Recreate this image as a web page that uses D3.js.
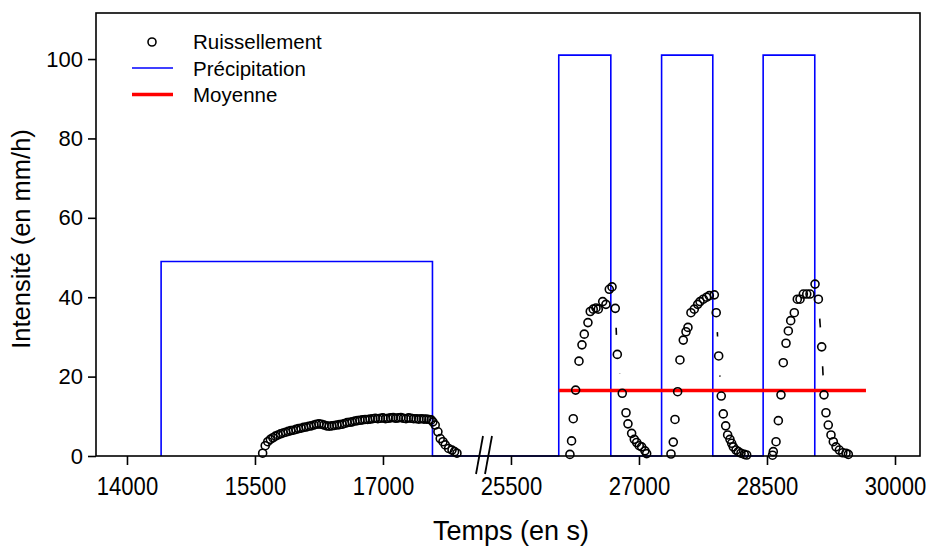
<!DOCTYPE html>
<html>
<head>
<meta charset="utf-8">
<script src="https://cdn.jsdelivr.net/npm/d3@7"></script>
<style>
html,body{margin:0;padding:0;background:#fff;}
svg{display:block;}
text{font-family:"Liberation Sans",Arial,sans-serif;fill:#000;}
</style>
</head>
<body>
<svg id="chart" width="926" height="548"></svg>
<script>
// ---- data ----
const xTickValues = [14000, 15500, 17000, 25500, 27000, 28500, 30000];
const yTickValues = [0, 20, 40, 60, 80, 100];
const seriesNames = ["Ruissellement", "Précipitation", "Moyenne"];

// precipitation hyetograph (time s, intensity mm/h)
const precipTimes  = [14400, 14400, 17580, 17580, 18184, 25184, 26060, 26060, 26670, 26670, 27265, 27265, 27865, 27865, 28455, 28455, 29060, 29060];
const precipValues = [0, 49, 49, 0, 0, 0, 0, 101, 101, 0, 0, 101, 101, 0, 0, 101, 101, 0];

// mean runoff line
const meanTimes  = [26060, 29660];
const meanValues = [16.5, 16.5];

// runoff event 1 (long rain)
const runoff1Times = [15590,15620,15650,15680,15710,15740,15770,15800,15830,15860,15890,15920,15950,15980,16010,16040,16070,16100,16130,16160,16190,16220,16250,16280,16310,16340,16370,16400,16430,16460,16490,16520,16550,16580,16610,16640,16670,16700,16730,16760,16790,16820,16850,16880,16910,16940,16970,17000,17030,17060,17090,17120,17150,17180,17210,17240,17270,17300,17330,17360,17390,17420,17450,17480,17510,17540,17565,17585,17612,17644,17671,17703,17730,17769,17809,17839,17867];
const runoff1Values = [0.7,2.6,3.6,4.2,4.6,5.0,5.3,5.6,5.8,6.0,6.2,6.4,6.5,6.7,6.9,7.0,7.2,7.3,7.5,7.6,7.8,8.0,8.1,8.0,7.8,7.6,7.5,7.6,7.7,7.8,7.9,8.0,8.2,8.4,8.5,8.6,8.8,8.9,9.0,9.1,9.2,9.2,9.3,9.4,9.5,9.4,9.5,9.6,9.4,9.5,9.6,9.7,9.5,9.6,9.7,9.5,9.4,9.6,9.5,9.4,9.4,9.3,9.4,9.3,9.3,9.2,9.1,8.6,7.8,6.1,4.4,3.6,2.8,1.9,1.5,1.1,0.7];

// runoff events 2-4 (short intense rains)
const runoff2Times = [26191,26210,26230,26258,26297,26332,26359,26402,26429,26464,26496,26523,26575,26613,26652,26684,26722,26746,26804,26848,26871,26914,26945,26973,27003,27031,27070,27090];
const runoff2Values = [0.4,3.8,9.4,16.6,23.9,28.0,30.7,33.6,36.4,37.0,37.3,37.0,38.9,38.2,42.0,42.6,37.2,25.6,15.8,10.9,8.1,5.7,4.2,3.4,2.6,2.3,1.3,0.6];
const runoff3Times = [27375,27402,27422,27453,27480,27519,27551,27574,27609,27648,27688,27715,27754,27793,27824,27883,27905,27934,27964,27988,28016,28039,28066,28086,28105,28137,28164,28195,28234,28262];
const runoff3Values = [0.5,3.5,9.2,16.2,24.2,29.2,31.3,32.4,36.1,37.0,38.2,38.9,39.5,40.0,40.4,40.6,36.1,25.2,15.1,10.6,7.6,5.3,4.2,3.2,2.3,1.5,1.1,0.7,0.4,0.25];
const runoff4Times = [28565,28574,28606,28633,28664,28691,28723,28750,28778,28820,28855,28887,28926,28966,29004,29063,29102,29141,29168,29191,29218,29250,29277,29309,29348,29388,29426,29453];
const runoff4Values = [0.2,1.1,3.6,8.9,15.4,23.5,28.4,31.5,34.1,36.1,39.5,39.5,40.8,40.8,40.8,43.3,39.5,27.5,15.4,10.9,7.8,5.3,3.6,2.3,1.5,0.8,0.7,0.4];

// ---- layout ----
const svg = d3.select("#chart");
const L = 96, R = 920, T = 13, B = 456;
const breakLeft = 18184, breakRight = 25184;
const symR = 4;

const x = d3.scaleLinear()
  .domain([13637, breakLeft, breakRight, 30293])
  .range([L, 484, 484, R]);
const y = d3.scaleLinear().domain([0, 111.6]).range([B, T]);

const zip = (ts, vs) => ts.map((t, i) => [t, vs[i]]);

// precipitation
svg.append("path")
  .datum(zip(precipTimes, precipValues))
  .attr("fill", "none").attr("stroke", "#0000ff").attr("stroke-width", 1.6)
  .attr("d", d3.line().x(d => x(d[0])).y(d => y(d[1])));

// mean
svg.append("path")
  .datum(zip(meanTimes, meanValues))
  .attr("fill", "none").attr("stroke", "#ff0000").attr("stroke-width", 3.4)
  .attr("d", d3.line().x(d => x(d[0])).y(d => y(d[1])));

// runoff: connecting line with gaps around symbols, then symbols
const gap = 19.5;
const events = [zip(runoff1Times, runoff1Values), zip(runoff2Times, runoff2Values), zip(runoff3Times, runoff3Values), zip(runoff4Times, runoff4Values)];
const gLine = svg.append("g");
events.forEach(ev => {
  for (let i = 0; i < ev.length - 1; i++) {
    const x1 = x(ev[i][0]), y1 = y(ev[i][1]), x2 = x(ev[i+1][0]), y2 = y(ev[i+1][1]);
    const d = Math.hypot(x2 - x1, y2 - y1);
    if (d > 2 * gap) {
      const ux = (x2 - x1) / d, uy = (y2 - y1) / d;
      gLine.append("line")
        .attr("x1", x1 + ux * gap).attr("y1", y1 + uy * gap)
        .attr("x2", x2 - ux * gap).attr("y2", y2 - uy * gap)
        .attr("stroke", "#000").attr("stroke-width", 1.6);
    }
  }
});
const gPts = svg.append("g");
events.forEach(ev => {
  gPts.selectAll(null).data(ev).enter().append("circle")
    .attr("cx", d => x(d[0])).attr("cy", d => y(d[1])).attr("r", symR)
    .attr("fill", "none").attr("stroke", "#000").attr("stroke-width", 1.6);
});

// frame
svg.append("rect").attr("x", L).attr("y", T).attr("width", R - L).attr("height", B - T)
  .attr("fill", "none").attr("stroke", "#000").attr("stroke-width", 1.6);

// axes
const xAxis = svg.append("g").attr("transform", `translate(0,${B})`)
  .call(d3.axisBottom(x).tickValues(xTickValues).tickSize(9).tickPadding(12).tickFormat(d3.format("d")));
xAxis.select(".domain").remove();
xAxis.selectAll(".tick line").attr("stroke-width", 1.6);
xAxis.selectAll(".tick text").attr("font-size", 26).attr("font-family", "Liberation Sans, Arial, sans-serif")
  .attr("transform", "scale(0.85,1)");

const yAxis = svg.append("g").attr("transform", `translate(${L},0)`)
  .call(d3.axisLeft(y).tickValues(yTickValues).tickSize(8).tickPadding(5));
yAxis.select(".domain").remove();
yAxis.selectAll(".tick line").attr("stroke-width", 1.6);
yAxis.selectAll(".tick text").attr("font-size", 22).attr("font-family", "Liberation Sans, Arial, sans-serif");

// axis break marks
const bx = x(breakLeft);
[-4.5, 4.5].forEach(o => {
  svg.append("line").attr("x1", bx + o - 3.5).attr("y1", B + 18).attr("x2", bx + o + 3.5).attr("y2", B - 20)
    .attr("stroke", "#000").attr("stroke-width", 1.8);
});

// titles
svg.append("text").attr("text-anchor", "middle")
  .attr("transform", `translate(511,540)`)
  .attr("font-size", 27).text("Temps (en s)");
svg.append("text").attr("text-anchor", "middle")
  .attr("transform", `translate(30,239) rotate(-90)`)
  .attr("font-size", 25.5).text("Intensité (en mm/h)");

// legend
const lg = svg.append("g");
lg.append("circle").attr("cx", 152).attr("cy", 42).attr("r", symR).attr("fill", "none").attr("stroke", "#000").attr("stroke-width", 1.6);
lg.append("line").attr("x1", 132).attr("x2", 173).attr("y1", 68).attr("y2", 68).attr("stroke", "#0000ff").attr("stroke-width", 1.6);
lg.append("line").attr("x1", 132).attr("x2", 173).attr("y1", 94.5).attr("y2", 94.5).attr("stroke", "#ff0000").attr("stroke-width", 3.4);
seriesNames.forEach((n, i) => {
  lg.append("text").attr("x", 193).attr("y", 42 + i * 26.5).attr("dy", "0.36em").attr("font-size", 20.5).text(n);
});
</script>
</body>
</html>
